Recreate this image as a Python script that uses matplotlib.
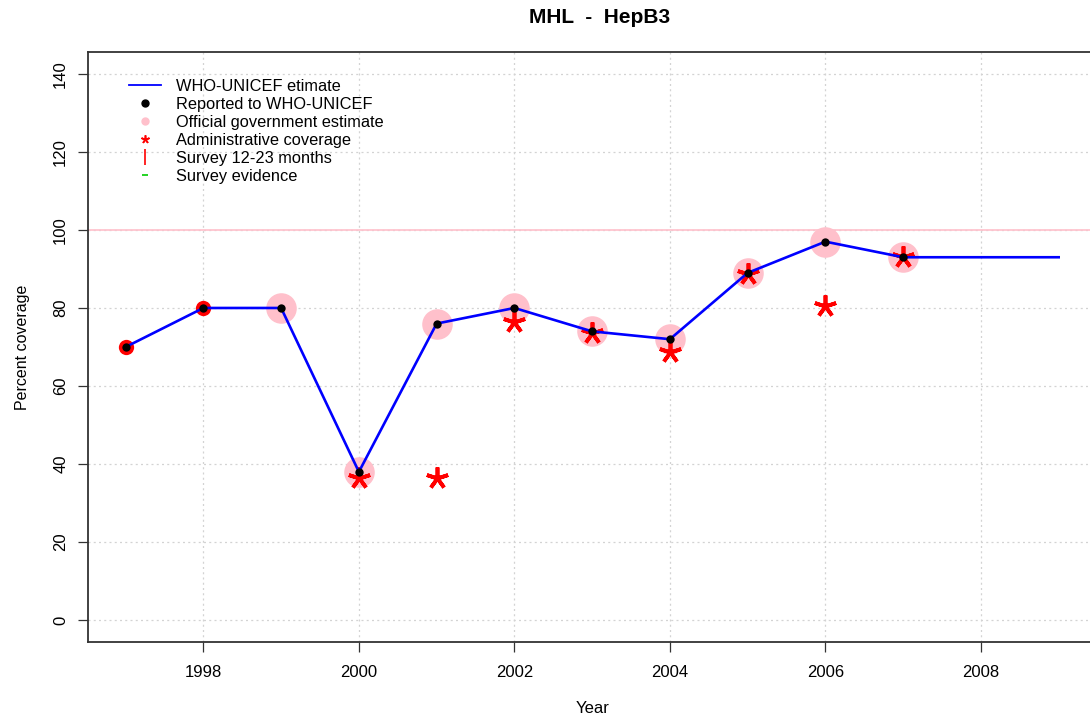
import numpy as np
import matplotlib
matplotlib.use("Agg")
import matplotlib.pyplot as plt
from matplotlib.lines import Line2D

plt.rcParams["font.family"] = ["Liberation Sans", "DejaVu Sans"]

# Data
years_est = [1997, 1998, 1999, 2000, 2001, 2002, 2003, 2004, 2005, 2006, 2007, 2008, 2009]
who_unicef = [70, 80, 80, 38, 76, 80, 74, 72, 89, 97, 93, 93, 93]

years_rep = [1997, 1998, 1999, 2000, 2001, 2002, 2003, 2004, 2005, 2006, 2007]
reported = [70, 80, 80, 38, 76, 80, 74, 72, 89, 97, 93]

years_gov = [1999, 2000, 2001, 2002, 2003, 2004, 2005, 2006, 2007]
official_gov = [80, 38, 76, 80, 74, 72, 89, 97, 93]

years_admin = [2000, 2001, 2002, 2003, 2004, 2005, 2006, 2007]
admin_cov = [36.5, 36.5, 76.5, 73.5, 68.7, 88.7, 80.6, 93]

years_red = [1997, 1998]
red_pts = [70, 80]

xticks = [1998, 2000, 2002, 2004, 2006, 2008]
yticks = [0, 20, 40, 60, 80, 100, 120, 140]

W, H = 1090, 718
fig = plt.figure(figsize=(W / 100, H / 100), dpi=100)
ax_l, ax_r, ax_t, ax_b = 88.3, 1096.0, 52.0, 642.0
ax = fig.add_axes([ax_l / W, 1 - ax_b / H, (ax_r - ax_l) / W, (ax_b - ax_t) / H])

grid_kw = dict(color="#d3d3d3", lw=0.9, ls=(0, (1.6, 2.6)), zorder=0)
for x in xticks:
    ax.axvline(x, **grid_kw)
for y in yticks:
    ax.axhline(y, **grid_kw)
ax.axhline(100, color="#ffc0cb", lw=1.2, zorder=1)

ax.plot(years_gov, official_gov, ls="none", marker="o", ms=22,
        color="#ffc0cb", mec="none", zorder=2)
ax.plot(years_red, red_pts, ls="none", marker="o", ms=11,
        color="#ff0000", mec="none", zorder=2)
ax.plot(years_admin, admin_cov, ls="none", marker=(5, 2, 0), ms=16,
        color="#ff0000", mew=2.7, zorder=3)
ax.plot(years_est, who_unicef, color="#0000ff", lw=1.9, zorder=4)
ax.plot(years_rep, reported, ls="none", marker="o", ms=6,
        color="black", mec="none", zorder=5)

ax.set_xlim(1996.52, 2009.48)
ax.set_ylim(-5.6, 145.6)
ax.set_xticks(xticks)
ax.set_yticks(yticks)
ax.tick_params(axis="both", direction="out", length=7.5, width=0.9,
               color="#333333", labelsize=12)
ax.tick_params(axis="x", pad=9)
ax.tick_params(axis="y", pad=7, labelrotation=90)
for lab in ax.get_yticklabels():
    lab.set_va("center")
for side in ("left", "bottom", "top"):
    ax.spines[side].set_color("#333333")
    ax.spines[side].set_linewidth(1.3)
ax.spines["right"].set_visible(False)

ax.set_xlabel("Year", fontsize=12, labelpad=15)
ax.set_ylabel("Percent coverage", fontsize=11.5, labelpad=17)

fig.text(600 / W, 1 - 23 / H, "MHL  -  HepB3", ha="center", va="baseline",
         fontsize=15, fontweight="bold")

handles = [
    Line2D([], [], color="#0000ff", lw=1.3),
    Line2D([], [], ls="none", marker="o", ms=5, color="black"),
    Line2D([], [], ls="none", marker="o", ms=5, color="#ffc0cb"),
    Line2D([], [], ls="none", marker=(5, 2, 0), ms=6, mew=1.2, color="#ff0000"),
    Line2D([], [], ls="none", marker="|", ms=11, mew=1.2, color="#ff0000"),
    Line2D([], [], ls="none", marker="_", ms=4, mew=1.2, color="#00cc00"),
]
labels = ["WHO-UNICEF etimate", "Reported to WHO-UNICEF",
          "Official government estimate", "Administrative coverage",
          "Survey 12-23 months", "Survey evidence"]
ax.legend(handles, labels, loc="upper left",
          bbox_to_anchor=((129 - ax_l) / (ax_r - ax_l), 1 - (79 - ax_t) / (ax_b - ax_t)),
          frameon=False, fontsize=11.8, handlelength=1.95, handletextpad=0.92,
          labelspacing=0.18, borderaxespad=0, borderpad=0)

fig.savefig("out.png", dpi=100)
